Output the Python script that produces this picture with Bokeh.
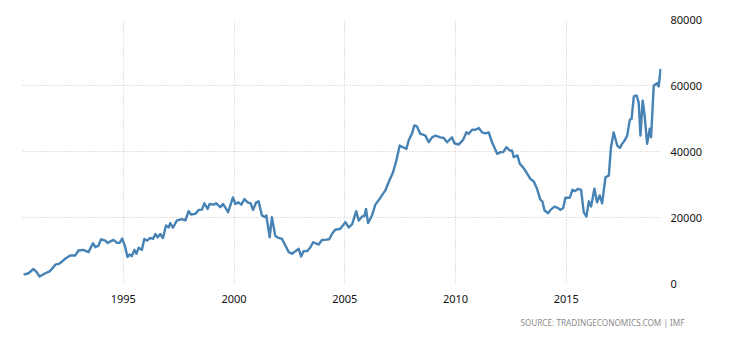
from bokeh.plotting import figure
from bokeh.models import Range1d, FixedTicker, Title, CustomJSTickFormatter
from bokeh.embed import file_html
from bokeh.resources import INLINE

years = [1990.50, 1990.72, 1990.95, 1991.10, 1991.22, 1991.48, 1991.67, 1991.78, 1991.93,
         1992.12, 1992.38, 1992.60, 1992.83, 1992.98, 1993.20, 1993.43, 1993.63, 1993.74,
         1993.88, 1994.00, 1994.19, 1994.29, 1994.56, 1994.72, 1994.83, 1994.95, 1995.09,
         1995.19, 1995.28, 1995.39, 1995.50, 1995.59, 1995.69, 1995.84, 1995.95, 1996.07,
         1996.22, 1996.34, 1996.45, 1996.55, 1996.67, 1996.79, 1996.93, 1997.05, 1997.12,
         1997.24, 1997.42, 1997.65, 1997.80, 1997.95, 1998.06, 1998.25, 1998.40, 1998.55,
         1998.66, 1998.81, 1998.90, 1999.08, 1999.20, 1999.38, 1999.50, 1999.60, 1999.73,
         1999.83, 1999.95, 2000.06, 2000.20, 2000.33, 2000.47, 2000.61, 2000.75, 2000.86,
         2001.00, 2001.11, 2001.26, 2001.41, 2001.46, 2001.61, 2001.71, 2001.86, 2002.01,
         2002.17, 2002.32, 2002.47, 2002.62, 2002.77, 2002.92, 2003.03, 2003.14, 2003.30,
         2003.45, 2003.57, 2003.67, 2003.82, 2003.97, 2004.17, 2004.30, 2004.42, 2004.57,
         2004.80, 2005.03, 2005.18, 2005.33, 2005.52, 2005.63, 2005.78, 2005.88, 2005.96,
         2006.05, 2006.23, 2006.38, 2006.61, 2006.83, 2006.98, 2007.18, 2007.33, 2007.48,
         2007.63, 2007.78, 2007.89, 2008.04, 2008.14, 2008.26, 2008.41, 2008.64, 2008.79,
         2008.94, 2009.09, 2009.32, 2009.47, 2009.62, 2009.84, 2009.95, 2010.14, 2010.34,
         2010.49, 2010.60, 2010.75, 2010.90, 2011.05, 2011.20, 2011.35, 2011.50, 2011.65,
         2011.88, 2012.03, 2012.15, 2012.30, 2012.45, 2012.55, 2012.63, 2012.80, 2012.90,
         2013.05, 2013.20, 2013.38, 2013.53, 2013.68, 2013.83, 2013.92, 2014.02, 2014.18,
         2014.29, 2014.47, 2014.62, 2014.74, 2014.86, 2014.96, 2015.16, 2015.28, 2015.40,
         2015.52, 2015.67, 2015.79, 2015.91, 2016.02, 2016.12, 2016.27, 2016.39, 2016.51,
         2016.62, 2016.77, 2016.92, 2017.02, 2017.14, 2017.30, 2017.42, 2017.52, 2017.63,
         2017.75, 2017.87, 2017.95, 2018.05, 2018.17, 2018.27, 2018.35, 2018.45, 2018.54,
         2018.65, 2018.77, 2018.83, 2018.95, 2019.10, 2019.17, 2019.26]

values = [2700, 3100, 4400, 3400, 2100, 3100, 3700, 4400, 5700,
          6000, 7500, 8500, 8500, 10000, 10200, 9500, 12200, 11000,
          11500, 13400, 13000, 12300, 13200, 12300, 12300, 13600, 11000,
          8000, 8800, 8300, 10200, 9000, 10800, 10200, 13500, 13000,
          13800, 13500, 15000, 14000, 15000, 13800, 17600, 17000, 18300,
          16900, 19100, 19500, 19100, 21900, 20900, 21100, 22300, 22400,
          24300, 22600, 24100, 23900, 24300, 23100, 24100, 23100, 21600,
          23600, 26100, 24100, 24600, 23900, 25600, 24600, 24300, 22300,
          24600, 24900, 20600, 20100, 20600, 14000, 20100, 14500, 13800,
          13500, 11500, 9500, 9000, 9800, 10500, 8200, 9800, 9800,
          11000, 12500, 12200, 11800, 13200, 13300, 13400, 15000, 16300,
          16600, 18600, 17000, 17900, 21900, 19100, 20300, 20400, 22600,
          18300, 20600, 23900, 26000, 28200, 30700, 33700, 37300, 41800,
          41300, 40800, 43500, 45500, 47900, 47600, 45400, 44800, 42800,
          44300, 44800, 44300, 44100, 42800, 44300, 42500, 42100, 43500,
          45800, 45400, 46600, 46600, 47100, 45800, 45500, 45800, 42800,
          39300, 39800, 39800, 41300, 40300, 40300, 38300, 38800, 36300,
          35200, 33700, 31700, 31000, 28700, 25400, 24900, 22100, 21300,
          22300, 23300, 22900, 22300, 22900, 26000, 26000, 28400, 28000,
          28700, 28400, 21600, 20300, 24900, 23300, 28700, 24600, 26700,
          24300, 32200, 32700, 41300, 45800, 41800, 41100, 42300, 43300,
          44800, 49600, 49900, 56700, 57000, 54900, 44800, 55400, 50900,
          42300, 46900, 44300, 60000, 60700, 59700, 65000]

x_ticks = [1995, 2000, 2005, 2010, 2015]
y_ticks = [0, 20000, 40000, 60000, 80000]
source_text = "SOURCE: TRADINGECONOMICS.COM | IMF"

p = figure(width=712, height=338, output_backend="svg", toolbar_location=None,
           x_range=Range1d(1990.45, 2019.3), y_range=Range1d(0, 80000),
           min_border_left=22, min_border_right=51, min_border_top=19, min_border_bottom=55,
           x_axis_location="below", y_axis_location="right")
p.outline_line_color = None
p.background_fill_color = "white"
p.border_fill_color = "white"

p.line(years, values, line_color="#4682b4", line_width=2.4, line_join="round")

xa = p.xaxis[0]
xa.ticker = FixedTicker(ticks=x_ticks)
xa.axis_line_color = None
xa.major_tick_line_color = None
xa.minor_tick_line_color = None
xa.major_label_standoff = 5
xa.major_label_text_font = "Noto Sans"
xa.major_label_text_font_size = "11px"
xa.major_label_text_color = "#111111"

ya = p.yaxis[0]
ya.ticker = FixedTicker(ticks=y_ticks)
ya.formatter = CustomJSTickFormatter(code="return tick.toFixed(0);")
ya.axis_line_color = None
ya.major_tick_line_color = None
ya.minor_tick_line_color = None
ya.major_label_standoff = 3
ya.major_label_text_font = "Noto Sans"
ya.major_label_text_font_size = "11px"
ya.major_label_text_color = "#111111"

p.xgrid.ticker = FixedTicker(ticks=x_ticks)
p.ygrid.ticker = FixedTicker(ticks=y_ticks)
for g in (p.xgrid[0], p.ygrid[0]):
    g.grid_line_color = "#c4c4c4"
    g.grid_line_dash = "1 2"
    g.grid_line_width = 1

src = Title(text=source_text, align="right", offset=-23, standoff=19,
            text_font="Noto Sans", text_font_size="8.2px", text_font_style="normal",
            text_color="#8a8a8a")
p.add_layout(src, "below")

open("out.html", "w").write(file_html(p, INLINE))
